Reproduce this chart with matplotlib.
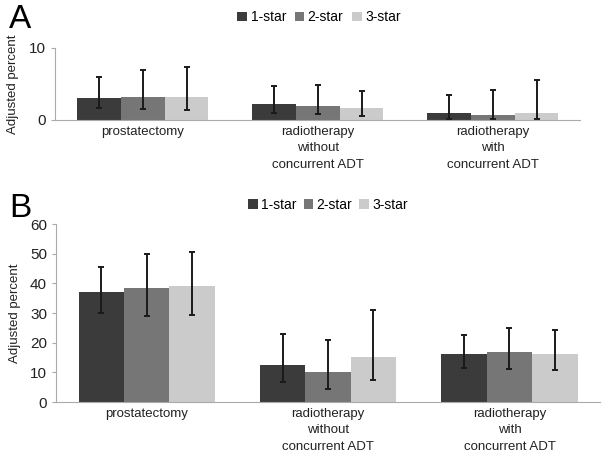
import matplotlib.pyplot as plt
import numpy as np

plt.rcParams["font.family"] = ["Liberation Sans", "DejaVu Sans"]

categories = ["prostatectomy",
              "radiotherapy\nwithout\nconcurrent ADT",
              "radiotherapy\nwith\nconcurrent ADT"]
series = ["1-star", "2-star", "3-star"]
colors = ["#3b3b3b", "#767676", "#cbcbcb"]

# panel A: value, lower CI, upper CI per star rating
a_vals = [[3.0, 2.2, 0.95], [3.25, 2.0, 0.75], [3.15, 1.6, 1.0]]
a_low = [[1.6, 1.0, 0.2], [1.5, 0.8, 0.1], [1.35, 0.6, 0.15]]
a_high = [[6.0, 4.7, 3.5], [7.0, 4.8, 4.2], [7.35, 4.0, 5.6]]

# panel B
b_vals = [[37.2, 12.5, 16.2], [38.5, 10.0, 16.7], [39.0, 15.3, 16.3]]
b_low = [[30.0, 6.8, 11.5], [29.0, 4.5, 11.0], [29.3, 7.3, 10.8]]
b_high = [[45.5, 22.8, 22.5], [50.0, 21.0, 25.0], [50.5, 31.0, 24.4]]

fig = plt.figure(figsize=(6.02, 4.54), dpi=100)


def draw_panel(ax, vals, low, high, yticks, ylim):
    x = np.arange(len(categories))
    w = 0.25
    for i, name in enumerate(series):
        v = np.array(vals[i])
        err = [v - np.array(low[i]), np.array(high[i]) - v]
        ax.bar(x + (i - 1) * w, v, w, color=colors[i], label=name)
        ax.errorbar(x + (i - 1) * w, v, yerr=err, fmt="none",
                    ecolor="#1a1a1a", elinewidth=1.4, capsize=2.2,
                    capthick=1.4)
    ax.set_xlim(-0.5, 2.5)
    ax.set_ylim(*ylim)
    ax.set_yticks(yticks)
    ax.set_xticks(x)
    ax.set_xticklabels(categories, fontsize=9.5, color="#222222",
                       linespacing=1.5)
    for s in ["top", "right"]:
        ax.spines[s].set_visible(False)
    for s in ["left", "bottom"]:
        ax.spines[s].set_color("#aaaaaa")
    ax.tick_params(axis="x", length=0, pad=4)
    ax.tick_params(axis="y", length=3, color="#aaaaaa", labelsize=11,
                   labelcolor="#222222")
    ax.set_ylabel("Adjusted percent", fontsize=9.5, color="#222222")


ax_a = fig.add_axes([0.092, 0.7357, 0.872, 0.1586])
draw_panel(ax_a, a_vals, a_low, a_high, [0, 10], (0, 10))
ax_a.yaxis.set_label_coords(-0.07, 0.5)
ax_a.legend(loc="center", bbox_to_anchor=(0.53, 0.962),
            bbox_transform=fig.transFigure, ncol=3, frameon=False,
            fontsize=10, handlelength=0.7, handleheight=0.7,
            handletextpad=0.25, columnspacing=0.6)
fig.text(0.015, 0.958, "A", fontsize=24, va="center")

ax_b = fig.add_axes([0.093, 0.1145, 0.904, 0.392])
draw_panel(ax_b, b_vals, b_low, b_high, np.arange(0, 61, 10), (0, 60))
ax_b.yaxis.set_label_coords(-0.065, 0.5)
ax_b.legend(loc="center", bbox_to_anchor=(0.545, 0.548),
            bbox_transform=fig.transFigure, ncol=3, frameon=False,
            fontsize=10, handlelength=0.7, handleheight=0.7,
            handletextpad=0.25, columnspacing=0.5)
fig.text(0.015, 0.54, "B", fontsize=24, va="center")

fig.savefig("out.png", dpi=100)
